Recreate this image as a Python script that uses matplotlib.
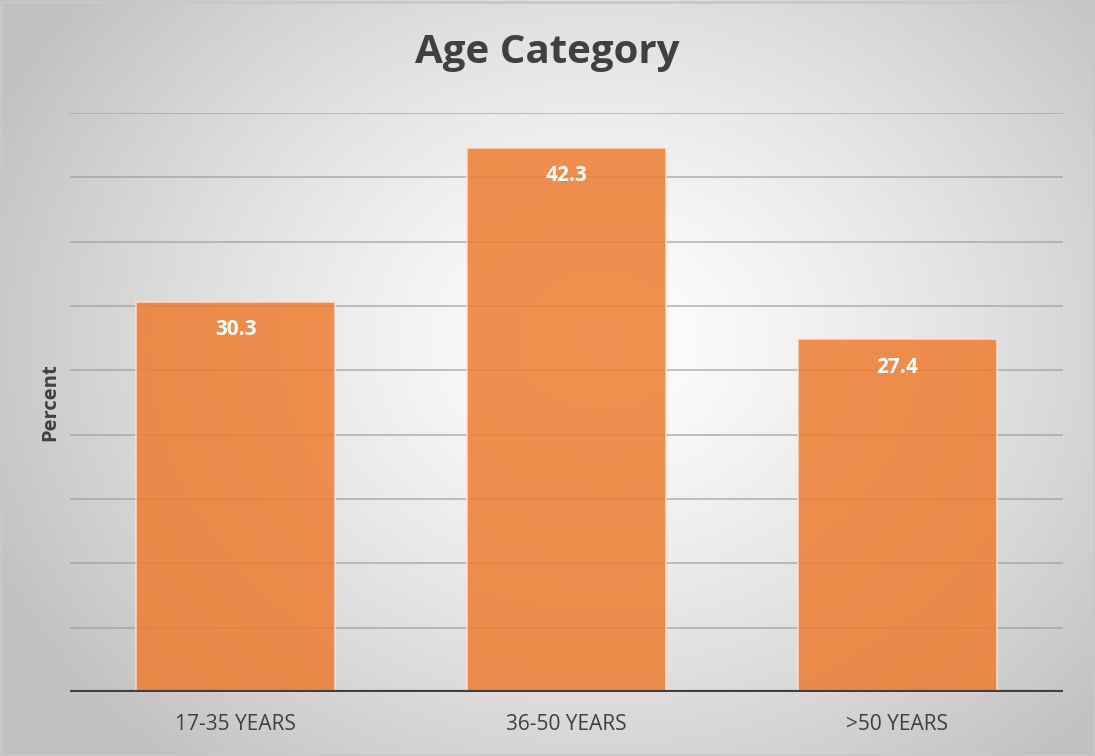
import matplotlib
matplotlib.use("Agg")
import matplotlib.pyplot as plt
import numpy as np

categories = ["17-35 YEARS", "36-50 YEARS", ">50 YEARS"]
percent = [30.3, 42.3, 27.4]
grid_ticks = [5, 10, 15, 20, 25, 30, 35, 40, 45]

plt.rcParams["font.family"] = ["Open Sans", "DejaVu Sans"]

W, H = 1095, 756
fig = plt.figure(figsize=(W / 100, H / 100), dpi=100)

# soft radial backdrop, bright in the middle, grey towards the corners
bg = fig.add_axes([0, 0, 1, 1], zorder=-10)
yy, xx = np.mgrid[0:H, 0:W]
r = np.hypot((xx - 600) / 620.0, (yy - 340) / 520.0)
shade = np.clip(1.0 - 0.22 * r ** 1.3, 0.76, 1.0)
bg.imshow(np.dstack([shade] * 3), extent=[0, 1, 0, 1], aspect="auto")
bg.add_patch(plt.Rectangle((0.001, 0.001), 0.998, 0.997, fill=False,
                           edgecolor="#c8c8c8", linewidth=2, transform=bg.transAxes))
bg.set_axis_off()

ax = fig.add_axes([70 / W, 1 - 692 / H, (1063 - 70) / W, (692 - 113) / H])
ax.patch.set_alpha(0)

x = np.arange(len(categories))
bars = ax.bar(x, percent, width=0.6, color="#ED7D31", alpha=0.85,
              edgecolor="#fbe3d4", linewidth=1.2, zorder=3)
for gy in grid_ticks:
    ax.axhline(gy, color="#9a9a9a", linewidth=1.2, alpha=0.7, zorder=2)
ax.axhline(0, color="#404040", linewidth=3, zorder=4)

for b, v in zip(bars, percent):
    ax.annotate(f"{v}", (b.get_x() + b.get_width() / 2, v), xytext=(0, -20),
                textcoords="offset points", ha="center", va="center",
                color="white", fontsize=15, fontweight="bold", zorder=5)

ax.set_xlim(-0.5, 2.5)
ax.set_ylim(0, 45)
ax.set_xticks(x)
ax.set_xticklabels(categories, fontsize=15, color="#404040")
ax.tick_params(axis="x", length=0, pad=16)
ax.set_yticks([])
for s in ax.spines.values():
    s.set_visible(False)

ax.set_ylabel("Percent", fontsize=14.5, fontweight="bold", color="#404040", labelpad=7)
fig.text(0.5, 1 - 53 / H, "Age Category", ha="center", va="center",
         fontsize=29, fontweight="bold", color="#404040")

fig.savefig("out.png", dpi=100)
